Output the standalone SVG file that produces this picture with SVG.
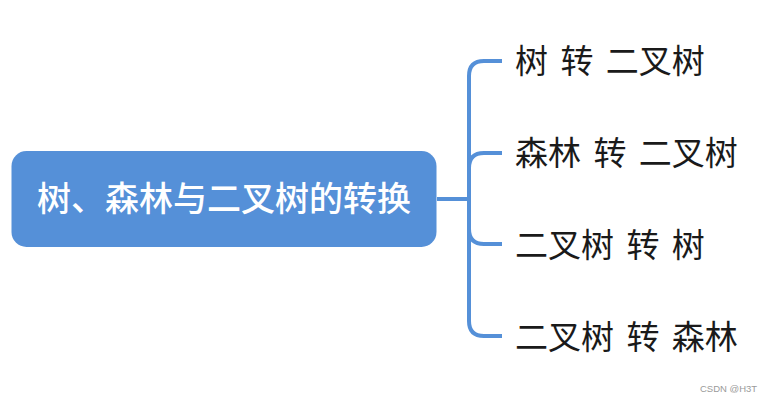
<svg xmlns="http://www.w3.org/2000/svg" width="773" height="401" viewBox="0 0 773 401">
<style>
.main{font-family:"Noto Sans CJK SC","Noto Sans",sans-serif;font-size:34px;fill:#ffffff;font-weight:500}
.leaf{font-family:"Noto Sans CJK SC","Noto Sans",sans-serif;font-size:33px;fill:#1a1a1a;word-spacing:5px}
.conn{fill:none;stroke:#5590d8;stroke-width:4;stroke-linecap:butt}
.wm{font-family:"Liberation Sans",Arial,sans-serif;font-size:9.5px;fill:#9a9a9a}
</style>
<rect width="773" height="401" fill="#ffffff"/>
<g id="connectors">
<path class="conn" d="M437 199 H469"/>
<path class="conn" d="M469 199 V76 Q469 61 484 61 H502"/>
<path class="conn" d="M469 199 V168 Q469 153 484 153 H502"/>
<path class="conn" d="M469 199 V229 Q469 244 484 244 H502"/>
<path class="conn" d="M469 199 V321 Q469 336 484 336 H502"/>
</g>
<g id="root">
<rect x="11.5" y="151" width="425" height="96" rx="15" fill="#5590d8"/>
<text class="main" x="224" y="211" text-anchor="middle">树、森林与二叉树的转换</text>
</g>
<g id="n1"><text class="leaf" x="515" y="73">树 转 二叉树</text></g>
<g id="n2"><text class="leaf" x="515" y="165">森林 转 二叉树</text></g>
<g id="n3"><text class="leaf" x="515" y="257">二叉树 转 树</text></g>
<g id="n4"><text class="leaf" x="515" y="349">二叉树 转 森林</text></g>
<text class="wm" x="700" y="392">CSDN @H3T</text>
</svg>
